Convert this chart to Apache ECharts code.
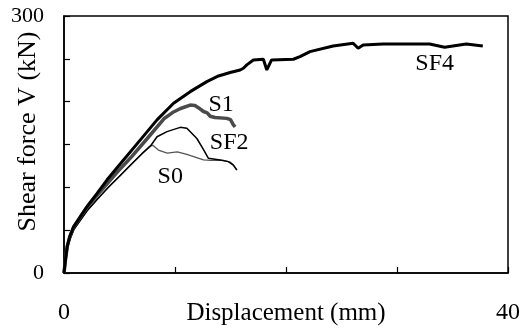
<!DOCTYPE html>
<html><head><meta charset="utf-8">
<script src="https://cdn.jsdelivr.net/npm/echarts@6/dist/echarts.min.js"></script>
<style>html,body{margin:0;padding:0;background:#fff}#c{width:523px;height:329px}</style>
</head><body><div id="c"></div>
<script>
// Data: [displacement (mm), shear force (kN)]
var S0 = [[0,0],[0.13,14],[0.3,29],[0.55,40],[0.9,51],[1.5,62],[2.1,73],[3,86],[4,100],[5,113],[6,126],[7,139],[7.7,148],[8.0,149],[8.5,143.5],[9.3,140],[10.2,141.5],[11.07,138.5],[11.4,137],[12.57,132],[13.2,131.5],[14.37,131.5],[14.97,129.5],[15.26,126],[15.57,120.5]];
var SF2 = [[0,0],[0.13,14],[0.3,29],[0.55,40],[0.9,51],[1.5,62],[2.1,73],[3,86],[4,100],[5,113],[6,126],[7,139],[7.78,148],[8.38,159],[9.28,165],[10.47,170],[11.07,169],[11.97,157],[12.57,144],[13.0,134],[14.07,132],[14.8,130],[15.26,126],[15.57,120]];
var S1 = [[0,0],[0.13,15],[0.29,31],[0.52,42],[0.88,54],[1.48,65.5],[2.08,77],[2.98,90.5],[3.88,104],[4.78,117.5],[6,134.5],[7.5,157],[9,180],[9.87,188],[10.5,192],[11.37,196],[11.8,195.5],[12.1,193],[12.57,188.5],[12.9,187],[13.17,183],[13.6,181.5],[14.67,180.5],[15.0,179],[15.26,173],[15.42,170.5]];
var SF4 = [[0,0],[0.13,15.5],[0.29,31],[0.52,42.7],[0.88,54.3],[1.48,66],[2.08,77.6],[2.98,93],[3.88,108.8],[5.38,132.1],[6.88,155.4],[8.38,178.7],[9.87,198.2],[11.37,211.7],[12.87,223.4],[13.92,230],[14.97,234],[15.87,237],[16.16,239],[16.47,243],[17.06,248.7],[17.96,249.5],[18.27,237],[18.7,248.7],[20.66,249.5],[21.26,252.5],[22.16,258.4],[24.25,265],[26.05,268.2],[26.5,262.3],[26.95,266.2],[28.75,267.4],[30.85,267.4],[32.94,267.4],[34.29,263.5],[36.24,267.4],[37.73,265]];
var seriesNames = ['S0','SF2','S1','SF4'];
var labelPos = [[9.57,112.6],[14.88,151.9],[14.16,196.2],[33.39,244]];
var xTickLabels = [0,40];
var yTickLabels = [0,300];

var FONT = 'Liberation Serif';
function mkLabel(i){
  return {symbol:'rect', symbolSize:1, silent:true, animation:false,
    itemStyle:{color:'rgba(0,0,0,0)'},
    label:{show:true, position:'inside', formatter:seriesNames[i], color:'#000', fontFamily:FONT, fontSize:24},
    data:[{coord:labelPos[i]}]};
}
var chart = echarts.init(document.getElementById('c'), null, {renderer:'canvas'});
chart.setOption({
  animation:false,
  grid:{left:64, right:15, top:16, bottom:56, outerBoundsMode:'none', containLabel:false, show:true, borderColor:'#000', borderWidth:1.5, backgroundColor:'transparent'},
  xAxis:{type:'value', min:0, max:40, interval:10,
    name:'Displacement (mm)', nameLocation:'middle', nameGap:28, nameMoveOverlap:false,
    nameTextStyle:{fontFamily:FONT, fontSize:25, color:'#000'},
    axisLine:{show:true, lineStyle:{color:'#000', width:1.5}},
    axisTick:{show:true, inside:true, length:6, lineStyle:{color:'#000', width:1.2}},
    axisLabel:{margin:28, fontFamily:FONT, fontSize:24, color:'#000',
      formatter:function(v){return xTickLabels.indexOf(v)>=0 ? String(v) : '';}},
    splitLine:{show:false}},
  yAxis:{type:'value', min:0, max:300, interval:50,
    name:'Shear force V (kN)', nameLocation:'middle', nameGap:23, nameMoveOverlap:false,
    nameTextStyle:{fontFamily:FONT, fontSize:26, color:'#000', padding:[0,0,0,26]},
    axisLine:{show:true, lineStyle:{color:'#000', width:1.5}},
    axisTick:{show:true, inside:true, length:6, lineStyle:{color:'#000', width:1.2}},
    axisLabel:{margin:20, fontFamily:FONT, fontSize:22, color:'#000',
      formatter:function(v){return yTickLabels.indexOf(v)>=0 ? String(v) : '';}},
    splitLine:{show:false}},
  series:[
    {name:'S0', type:'line', data:S0, showSymbol:false, lineStyle:{color:'#555', width:1.3}, markPoint:mkLabel(0)},
    {name:'SF2', type:'line', data:SF2, showSymbol:false, lineStyle:{color:'#000', width:1.5}, markPoint:mkLabel(1)},
    {name:'S1', type:'line', data:S1, showSymbol:false, lineStyle:{color:'#4a4a4a', width:3.5}, markPoint:mkLabel(2)},
    {name:'SF4', type:'line', data:SF4, showSymbol:false, lineStyle:{color:'#000', width:3}, markPoint:mkLabel(3)}
  ]
});
</script></body></html>
